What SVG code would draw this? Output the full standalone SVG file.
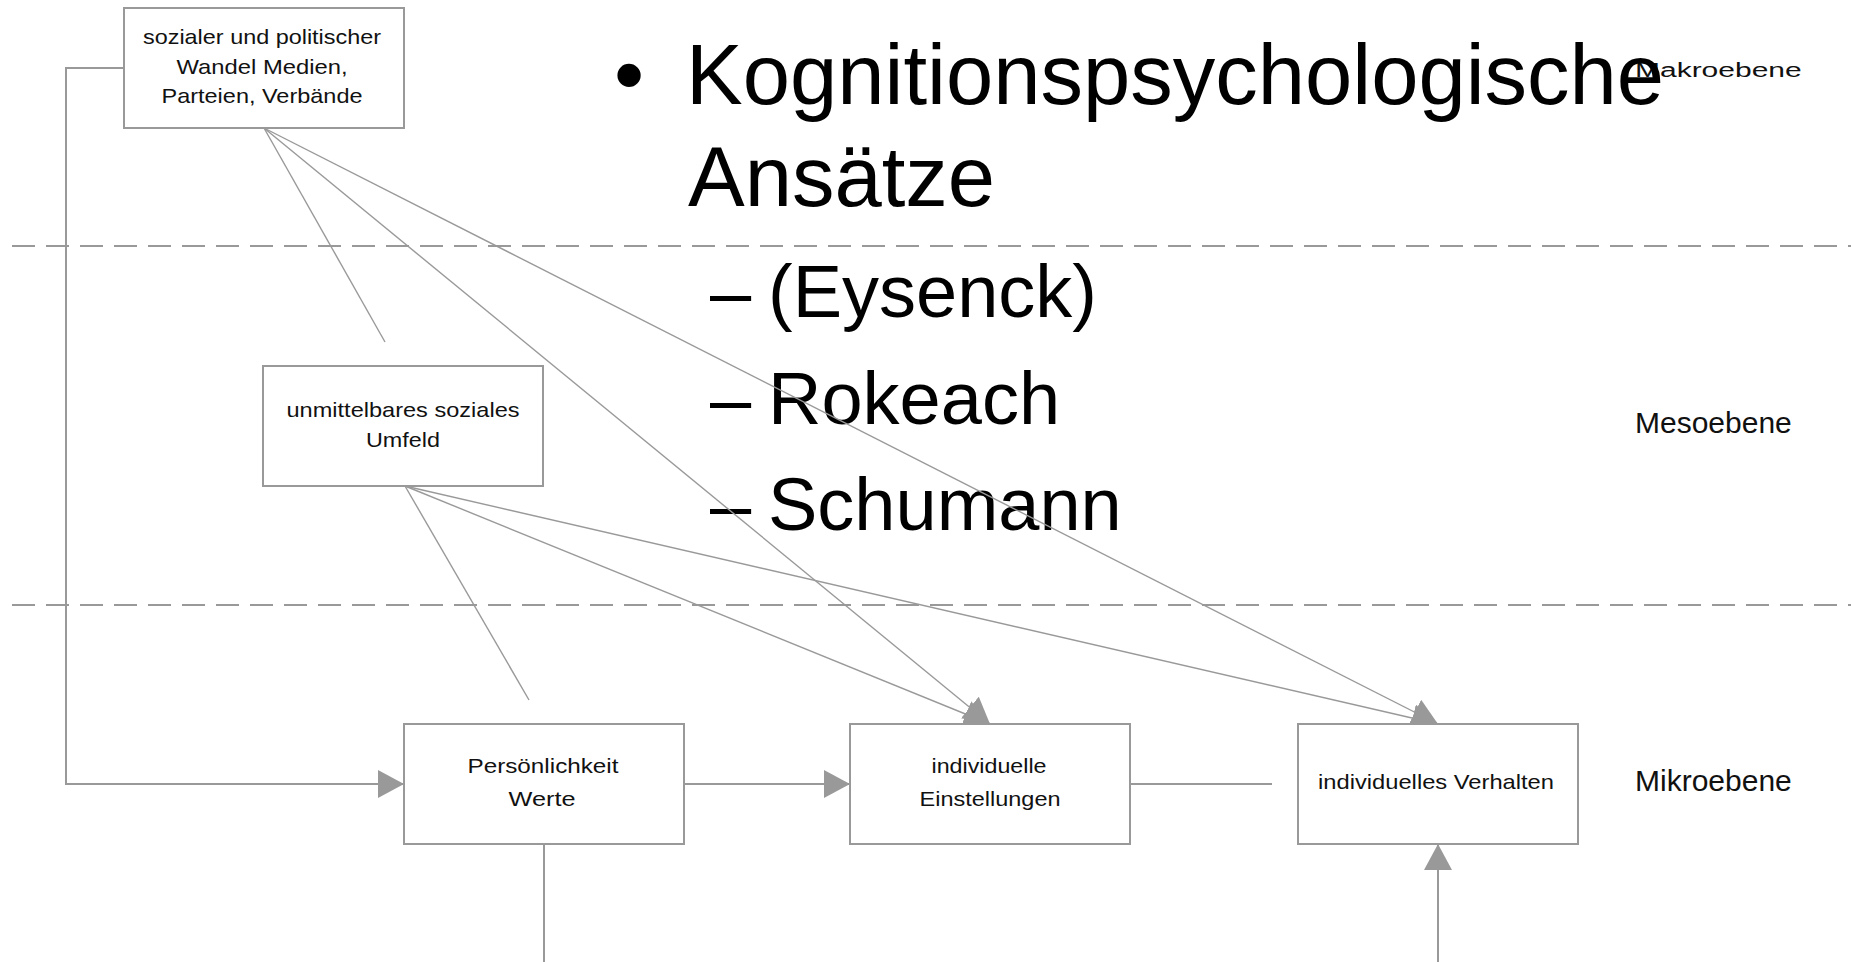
<svg xmlns="http://www.w3.org/2000/svg" width="1851" height="962" viewBox="0 0 1851 962">
<style>
.box{fill:#fff;stroke:#999;stroke-width:2}
.bt{font-family:"Liberation Sans",Arial,sans-serif;font-size:21px;fill:#111;text-anchor:middle}
.lvl{font-family:"Liberation Sans",Arial,sans-serif;font-size:30px;fill:#111}
.big{font-family:"Liberation Sans",Arial,sans-serif;fill:#000}
.c{fill:none;stroke:#999;stroke-width:2}
.d{fill:none;stroke:#999;stroke-width:1.4}
.dash{fill:none;stroke:#999;stroke-width:2;stroke-dasharray:23 11}
</style>
<defs>
<marker id="arr" markerUnits="userSpaceOnUse" markerWidth="26" markerHeight="28" refX="26" refY="14" orient="auto" viewBox="0 0 26 28">
<path d="M0,0 L26,14 L0,28 z" fill="#999"/>
</marker>
</defs>
<rect width="1851" height="962" fill="#fff"/>

<g id="levels">
<line class="dash" x1="12" y1="246" x2="1851" y2="246"/>
<line class="dash" x1="12" y1="605" x2="1851" y2="605"/>
<text class="lvl" transform="translate(1635,77) scale(1,0.7)">Makroebene</text>
<text class="lvl" x="1635" y="433">Mesoebene</text>
<text class="lvl" x="1635" y="791">Mikroebene</text>
</g>

<g id="title">
<text class="big" x="614" y="104" font-size="86">•</text>
<text class="big" x="686" y="104" font-size="85">Kognitionspsychologische</text>
<text class="big" x="688" y="206" font-size="85">Ansätze</text>
<text class="big" x="710" y="317" font-size="74">–</text>
<text class="big" x="768" y="317" font-size="74">(Eysenck)</text>
<text class="big" x="710" y="424" font-size="74">–</text>
<text class="big" x="768" y="424" font-size="74">Rokeach</text>
<text class="big" x="710" y="530" font-size="74">–</text>
<text class="big" x="768" y="530" font-size="74">Schumann</text>
</g>

<g id="connectors">
<polyline class="c" points="124,68 66,68 66,784 404,784" marker-end="url(#arr)"/>
<line class="d" x1="264" y1="128" x2="385" y2="342"/>
<line class="d" x1="264" y1="128" x2="990" y2="724" marker-end="url(#arr)"/>
<line class="d" x1="264" y1="128" x2="1438" y2="724" marker-end="url(#arr)"/>
<line class="d" x1="405" y1="486" x2="529" y2="700"/>
<line class="d" x1="405" y1="486" x2="990" y2="724" marker-end="url(#arr)"/>
<line class="d" x1="405" y1="486" x2="1438" y2="724" marker-end="url(#arr)"/>
<line class="c" x1="684" y1="784" x2="850" y2="784" marker-end="url(#arr)"/>
<line class="c" x1="1130" y1="784" x2="1272" y2="784"/>
<line class="c" x1="544" y1="844" x2="544" y2="962"/>
<line class="c" x1="1438" y1="962" x2="1438" y2="844" marker-end="url(#arr)"/>
</g>

<g id="node-wandel">
<rect class="box" x="124" y="8" width="280" height="120"/>
<text class="bt" x="262" y="44" textLength="238" lengthAdjust="spacingAndGlyphs">sozialer und politischer</text>
<text class="bt" x="262" y="74" textLength="171" lengthAdjust="spacingAndGlyphs">Wandel Medien,</text>
<text class="bt" x="262" y="103" textLength="201" lengthAdjust="spacingAndGlyphs">Parteien, Verbände</text>
</g>

<g id="node-umfeld">
<rect class="box" x="263" y="366" width="280" height="120"/>
<text class="bt" x="403" y="417" textLength="233" lengthAdjust="spacingAndGlyphs">unmittelbares soziales</text>
<text class="bt" x="403" y="447" textLength="74" lengthAdjust="spacingAndGlyphs">Umfeld</text>
</g>

<g id="node-persoenlichkeit">
<rect class="box" x="404" y="724" width="280" height="120"/>
<text class="bt" x="543" y="773" textLength="151" lengthAdjust="spacingAndGlyphs">Persönlichkeit</text>
<text class="bt" x="542" y="806" textLength="67" lengthAdjust="spacingAndGlyphs">Werte</text>
</g>

<g id="node-einstellungen">
<rect class="box" x="850" y="724" width="280" height="120"/>
<text class="bt" x="989" y="773" textLength="115" lengthAdjust="spacingAndGlyphs">individuelle</text>
<text class="bt" x="990" y="806" textLength="141" lengthAdjust="spacingAndGlyphs">Einstellungen</text>
</g>

<g id="node-verhalten">
<rect class="box" x="1298" y="724" width="280" height="120"/>
<text class="bt" x="1436" y="789" textLength="236" lengthAdjust="spacingAndGlyphs">individuelles Verhalten</text>
</g>
</svg>
